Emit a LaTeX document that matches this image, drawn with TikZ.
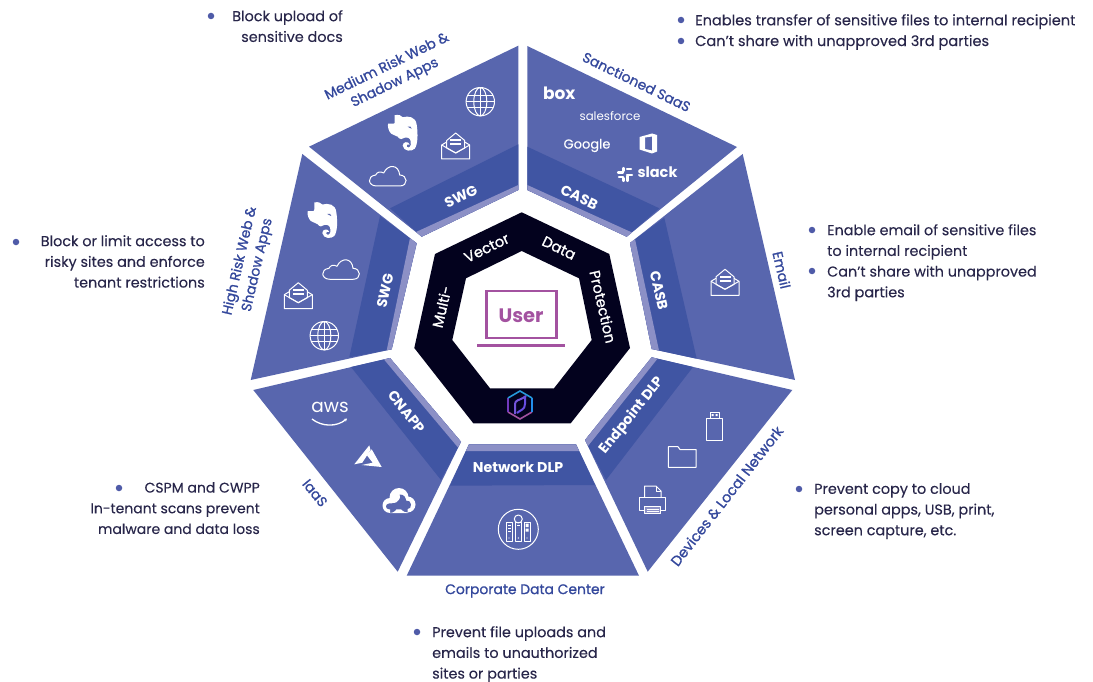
\documentclass[tikz,border=0pt]{standalone}
\usepackage{fontspec}
\setmainfont{Poppins}
\newfontfamily\medfont[FakeBold=1.1]{Poppins}
\newfontfamily\lightmed[FakeBold=0.15]{Poppins}
\usetikzlibrary{arrows.meta}
\definecolor{seg}{HTML}{5866AE}
\definecolor{band}{HTML}{4055A3}
\definecolor{strip}{HTML}{8C90C6}
\definecolor{core}{HTML}{03021E}
\definecolor{lbl}{HTML}{34489C}
\definecolor{body}{HTML}{28264A}
\definecolor{bul}{HTML}{4F5BA8}
\definecolor{usr}{HTML}{A352A0}
\tikzset{
 bodytext/.style={inner sep=0pt,text=body,font=\lightmed\fontsize{14.4}{20.7}\selectfont},
 rtext/.style={bodytext,anchor=north east,align=right},
 ltext/.style={bodytext,anchor=north west,align=left},
 bulletdot/.style={circle,fill=bul,inner sep=0pt,minimum size=6.5pt},
 outerlabel/.style={inner sep=0pt,text=lbl,align=center,font=\medfont\fontsize{13.9}{18}\selectfont},
 bandlabel/.style={inner sep=0pt,text=white,font=\bfseries\fontsize{14.2}{15}\selectfont},
 ringlabel/.style={inner sep=0pt,text=white,font=\medfont\fontsize{14.6}{15}\selectfont},
 logotext/.style={inner sep=0pt,text=white},
 icon/.style={draw=white,line width=1pt,line join=round},
 pics/envelopeicon/.style={code={
   \draw[icon] (-9,-5.5)--(0,-13)--(9,-5.5)--(9,2)--(0,7)--(-9,2)--cycle;
   \draw[icon] (-9,-4)--(-14,-1)--(-14,13)--(14,13)--(14,-1)--(9,-4);
   \draw[icon] (-14,-1)--(0,7)--(14,-1);
   \fill[white] (-5.5,-6.5) rectangle (5.5,-4.8);
   \fill[white] (-5.5,-2.5) rectangle (5.5,-0.8);
 }},
 pics/globeicon/.style={code={
   \draw[icon] (0,0) circle (14.2);
   \draw[icon] (0,0) ellipse (6.5 and 14.2);
   \draw[icon] (0,-14.2)--(0,14.2) (-14.2,0)--(14.2,0);
   \draw[icon] (-12.6,-6)--(12.6,-6) (-12.6,6)--(12.6,6);
 }},
 pics/cloudicon/.style={code={
   \draw[icon] (-11,10) .. controls (-20,10) and (-21,0) .. (-12,-1)
     .. controls (-11,-4) and (-7,-5) .. (-4,-3)
     .. controls (0,-12) and (11,-12) .. (12,-1)
     .. controls (20,-1) and (21,10) .. (12,10) -- cycle;
 }},
 pics/elephanticon/.style={code={
   \fill[white] (-8,-17.5) .. controls (-4,-18.5) and (-1,-17) .. (0,-15.5)
     .. controls (6,-17) and (13,-16) .. (14,-8)
     .. controls (15.5,2) and (15,12) .. (12,16)
     .. controls (9,19) and (1,19) .. (0,13)
     .. controls (0,9) and (6,8) .. (7,12)
     .. controls (5,11) and (3,12) .. (4,14)
     .. controls (6,16) and (9,14) .. (8,9)
     .. controls (8,6) and (5,4) .. (2,5)
     .. controls (0,7) and (-3,7) .. (-5,4)
     .. controls (-8,2) and (-12,2) .. (-13,-1)
     .. controls (-15,-4) and (-15,-8) .. (-14.5,-9)
     -- (-9,-9) .. controls (-8,-9) and (-8,-10) .. (-8,-11) -- cycle;
   \fill[seg] (5,-6) .. controls (7,-7) and (9,-6) .. (9,-4) .. controls (7,-5) and (6,-5) .. (5,-6) -- cycle;
 }},
}
\newcommand{\polyfill}[2]{\fill[#1] #2 -- cycle;}
\begin{document}
\begin{tikzpicture}[x=1pt,y=-1pt]
\useasboundingbox (0,0) rectangle (1093,682);
% ---- segments
\polyfill{seg}{(527.3,46)--(737,147)--(626.7,236.7)--(527.3,190)}
\polyfill{band}{(527.3,146.7)--(659.3,208.3)--(626.7,236.7)--(527.3,190)}
\polyfill{strip}{(527.3,185)--(632,232.5)--(626.7,236.7)--(527.3,190)}
\polyfill{seg}{(518.3,45.7)--(309,146.7)--(421.7,236.7)--(518.3,190)}
\polyfill{band}{(518.3,144.3)--(390,208.3)--(421.7,236.7)--(518.3,190)}
\polyfill{strip}{(518.3,185)--(416,232)--(421.7,236.7)--(518.3,190)}
\polyfill{seg}{(302.3,154)--(416.7,243.3)--(391.7,349.3)--(250.7,380)}
\polyfill{band}{(380,216)--(416.7,243.3)--(391.7,349.3)--(349.3,357.3)}
\polyfill{strip}{(410,238)--(416.7,243.3)--(391.7,349.3)--(386.7,350.3)}
\polyfill{seg}{(742.7,154)--(795,380)--(651.7,349)--(630,243)}
\polyfill{band}{(664.3,217.7)--(696.7,358.7)--(651.7,349)--(630,243)}
\polyfill{strip}{(635,239)--(659,350.5)--(651.7,349)--(630,243)}
\polyfill{seg}{(651.7,357.3)--(792.3,390)--(647.7,571.7)--(585,440)}
\polyfill{band}{(651.7,357.3)--(693,367)--(606,480)--(585,440)}
\polyfill{strip}{(651.7,357.3)--(657.5,358.7)--(588,446)--(585,440)}
\polyfill{seg}{(469,444.3)--(576,444.3)--(639,575.7)--(406.7,575.7)}
\polyfill{band}{(469,444.3)--(576,444.3)--(595,485)--(450,485.7)}
\polyfill{strip}{(469,444.3)--(576,444.3)--(579,451)--(466,451)}
\polyfill{seg}{(253.3,390)--(390,358)--(461,441.7)--(397.7,571.7)}
\polyfill{band}{(351,367)--(390,358)--(461,441.7)--(441,480)}
\polyfill{strip}{(384,359.5)--(390,358)--(461,441.7)--(458,447.5)}
% ---- core ring
\fill[core,even odd rule] (521.7,212.3)--(609.3,254)--(630,348)--(570.7,423.3)--(473.3,423.3)--(414.3,348)--(435,254)--cycle
  (521.7,251)--(579,278.3)--(591.7,340)--(554,388.3)--(490,388.3)--(452.3,340)--(466,278.3)--cycle;
\node[ringlabel,rotate=77] (multi) at (441.7,306.7) {Multi-};
\node[ringlabel,rotate=26] (vector) at (486.7,248) {Vector};
\node[ringlabel,rotate=-26] (data) at (559,248) {Data};
\node[ringlabel,rotate=-77] (protection) at (603,306.7) {Protection};
\draw[usr,line width=2.4pt] (486.5,291) rectangle (556.5,338);
\draw[usr,line width=3.4pt] (477.3,345.7)--(565,345.7);
\node[inner sep=0pt,text=usr,font=\bfseries\fontsize{19.5}{22}\selectfont] (user) at (521,315.5) {User};
% logo
\draw[line width=1.6pt,color=usr] (508,412)--(520,419)--(532,412);
\draw[line width=1.6pt,color=usr!70!blue] (508,412)--(508,398);
\draw[line width=1.6pt,color=usr!30!cyan!70!blue] (532,412)--(532,398);
\draw[line width=1.6pt,color=blue!35!cyan!70!gray] (508,398)--(520,391)--(532,398);
\draw[line width=2pt,color=usr!50!blue!80!white] (515,414)--(515,404) .. controls (515,400) and (520,400) .. (523,398)--(526,396);
\draw[line width=2pt,color=usr!40!blue!80!white] (525,396)--(525,404) .. controls (525,410) and (520,410) .. (517,413);
% ---- band labels
\node[bandlabel,rotate=26] (swgtop) at (461,196.7) {SWG};
\node[bandlabel,rotate=-26] (casbtop) at (579.3,197.3) {CASB};
\node[bandlabel,rotate=-77] (casbright) at (659,290.7) {CASB};
\node[bandlabel,rotate=51] (endpoint) at (632,415.7) {Endpoint DLP};
\node[bandlabel] (netdlp) at (518,467) {Network DLP};
\node[bandlabel,rotate=-51] (cnapp) at (406.7,411.7) {CNAPP};
\node[bandlabel,rotate=77] (swgleft) at (385,290.7) {SWG};
% ---- outer labels
\node[outerlabel,rotate=-26] (saas) at (636.7,81.7) {Sanctioned SaaS};
\node[outerlabel,rotate=26] (medium) at (391,75) {Medium Risk Web \&\\Shadow Apps};
\node[outerlabel,rotate=77] (high) at (249,263) {High Risk Web \&\\Shadow Apps};
\node[outerlabel,rotate=-77] (email) at (781.7,270) {Email};
\node[outerlabel,rotate=52,font=\medfont\fontsize{14.3}{18}\selectfont] (devices) at (726.7,496) {Devices \& Local Network};
\node[outerlabel] (corp) at (525,591) {Corporate Data Center};
\node[outerlabel,rotate=-51] (iaas) at (315,493) {IaaS};
% ---- body text
\node[bulletdot] (b1) at (211,16) {};
\node[rtext] (t1) at (343,10) {Block upload of\\sensitive docs};
\node[bulletdot] (b2) at (681,20) {};
\node[bulletdot] (b3) at (681,41) {};
\node[ltext,font=\lightmed\fontsize{14.55}{20.7}\selectfont] (t2) at (695,14) {Enables transfer of sensitive files to internal recipient\\Can’t share with unapproved 3rd parties};
\node[bulletdot] (b4) at (16,242) {};
\node[rtext] (t3) at (205,235) {Block or limit access to\\risky sites and enforce\\tenant restrictions};
\node[bulletdot] (b5) at (812,230) {};
\node[bulletdot] (b6) at (812,271) {};
\node[ltext] (t4) at (827,224) {Enable email of sensitive files\\to internal recipient\\Can’t share with unapproved\\3rd parties};
\node[bulletdot] (b7) at (799,489) {};
\node[ltext] (t5) at (814,483) {Prevent copy to cloud\\personal apps, USB, print,\\screen capture, etc.};
\node[bulletdot] (b8) at (417,632) {};
\node[ltext] (t6) at (432,626) {Prevent file uploads and\\emails to unauthorized\\sites or parties};
\node[bulletdot] (b9) at (119,488) {};
\node[rtext,font=\lightmed\fontsize{14}{20.7}\selectfont] (t7) at (260,482) {CSPM and CWPP\\In-tenant scans prevent\\malware and data loss};
% ---- icons
\pic at (402.7,132.7) {elephanticon};
\pic at (455.7,146) {envelopeicon};
\pic at (480.3,101.7) {globeicon};
\pic at (387.7,176) {cloudicon};
\pic at (322.3,220) {elephanticon};
\pic at (341,269.3) {cloudicon};
\pic at (298.3,295.7) {envelopeicon};
\pic at (324.3,335.7) {globeicon};
\pic at (725,282.3) {envelopeicon};
% SaaS logos
\node[logotext,font=\bfseries\fontsize{17}{18}\selectfont] (box) at (559.3,93) {box};
\node[logotext,font=\fontsize{11.8}{13}\selectfont] (salesforce) at (610,116.5) {salesforce};
\node[logotext,font=\lightmed\fontsize{13}{15}\selectfont] (google) at (587,145.5) {Google};
\fill[white,even odd rule] (639.5,137) -- (652,133.5) -- (657,135) -- (657,151.5) -- (652,153.5) -- (639.5,149.5) -- cycle
  (645,137.5) -- (645,149) -- (652,150.5) -- (652,136.5) -- cycle;
\node[logotext,font=\bfseries\fontsize{14.5}{16}\selectfont] (slack) at (657.5,172.5) {slack};
\foreach \a/\b/\c/\d in {618/172.5/623/172.5, 623.5/168/623.5/171, 627/169/631/169, 619/177/623/177, 623.5/178/623.5/181, 627/175/632/175,627.5/176/627.5/181}
  \draw[white,line width=2.2pt,line cap=round] (\a,\b)--(\c,\d);
% aws, azure, gcp
\node[logotext,font=\fontsize{18.5}{18}\selectfont] (aws) at (330,407.5) {aws};
\draw[white,line width=1.3pt,-{Stealth[length=3pt,width=3.5pt]}] (312,419) .. controls (322,427) and (337,427) .. (347,418.5);
\fill[white] (369.3,445.3)--(354.3,464.3)--(362.3,462.7)--(370.5,450)--cycle;
\fill[white] (371.7,449.3)--(381.7,467)--(361.7,465)--(372.7,462.7)--(366.7,455)--cycle;
\fill[white] (390,505.5) circle (7.5) (407.5,504.5) circle (8) (399,497.5) circle (9.5) (390,505) rectangle (407.5,513);
\fill[seg] (389,509.3) .. controls (385,509) and (385,504) .. (389,503.5) .. controls (393,503) and (396,504) .. (399,500) .. controls (401,497) and (400,495) .. (399.5,494.5) .. controls (404,494) and (406,498) .. (406,500.5) .. controls (412,499.5) and (413,509.3) .. (407,509.3) -- cycle;
% devices
\draw[icon] (706.7,418) rectangle (722.3,440);
\draw[icon] (710,418)--(710,412)--(719,412)--(719,418);
\fill[white] (711.5,414) rectangle (713.5,416) (715.5,414) rectangle (717.5,416);
\draw[icon] (668.3,467.3)--(668.3,446.7)--(678,446.7)--(680,449.5)--(696,449.5)--(696,467.3)--cycle;
\draw[icon] (644.5,497)--(644.5,486)--(656,486)--(661,491)--(661,497);
\draw[icon] (656,486)--(656,491)--(661,491);
\draw[icon] (644,510)--(639.5,510)--(639.5,497)--(665.5,497)--(665.5,510)--(661,510);
\draw[icon,fill=strip] (644.5,506.5) rectangle (660.5,513.5);
\draw[white,line width=.8pt] (646.5,509)--(658.5,509) (646.5,511.5)--(658.5,511.5);
% server
\draw[white,line width=1pt] (518.3,529.3) circle (20);
\draw[icon] (506.5,522) rectangle (512.5,541);
\draw[icon] (515,522) rectangle (521.5,541);
\draw[icon] (524,522) rectangle (530,541);
\draw[icon] (518.3,519) circle (4);
\draw[white,line width=.8pt] (508,525)--(511,525) (508,528)--(511,528) (508,531)--(511,531) (516.5,525)--(520,525);
\fill[white] (525.5,523.5) rectangle (528.5,527) (525.5,528.5) rectangle (528.5,531.5);
\fill[white] (509,538) circle (.7) (518.3,538) circle (.7) (527,538) circle (.7);
\end{tikzpicture}
\end{document}
